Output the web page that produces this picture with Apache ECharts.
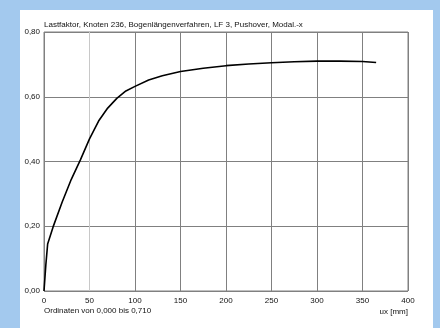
<!DOCTYPE html>
<html><head><meta charset="utf-8">
<script src="https://cdn.jsdelivr.net/npm/echarts@6/dist/echarts.min.js"></script>
<style>html,body{margin:0;padding:0;background:#a3c9ee}#c{width:440px;height:328px}</style>
</head><body><div id="c"></div>
<script>
const uxValues = [0, 2, 4, 10, 20, 30, 40, 50, 60, 70, 80, 90, 100, 115, 130, 150, 175, 200, 225, 250, 275, 300, 325, 350, 365];
const lastfaktor = [0, 0.08, 0.145, 0.198, 0.275, 0.345, 0.405, 0.47, 0.525, 0.565, 0.595, 0.618, 0.632, 0.652, 0.665, 0.678, 0.688, 0.696, 0.701, 0.705, 0.708, 0.71, 0.71, 0.709, 0.706];
const titleText = 'Lastfaktor, Knoten 236, Bogenlängenverfahren, LF 3, Pushover, Modal.-x';
const footText = 'Ordinaten von 0,000 bis 0,710';
const xAxisTitle = 'ux [mm]';

const chart = echarts.init(document.getElementById('c'));
const font = 'Liberation Sans, Arial, sans-serif';
const gridColors = ['#808080','#c8c8c8','#808080','#808080','#808080','#808080','#808080','#808080','#808080'];
chart.setOption({
  backgroundColor: '#a3c9ee',
  animation: false,
  graphic: [
    {type:'rect', shape:{x:20,y:10,width:413,height:318}, style:{fill:'#ffffff'}, z:-10, silent:true},
    {type:'text', left:44, top:21, style:{text:titleText, font:'8px '+font, fill:'#111'}},
    {type:'text', left:44, top:307, style:{text:footText, font:'8px '+font, fill:'#111'}},
    {type:'text', right:32, top:308, style:{text:xAxisTitle, font:'8px '+font, fill:'#111'}}
  ],
  grid: {left:44, top:32, right:32, bottom:37, show:true, borderColor:'#808080', borderWidth:1},
  xAxis: {
    type:'value', min:0, max:400, interval:50,
    axisLine:{show:false}, axisTick:{show:false},
    axisLabel:{color:'#111', fontSize:8, fontFamily:font, margin:6},
    splitLine:{show:true, lineStyle:{color:gridColors, width:1}}
  },
  yAxis: {
    type:'value', min:0, max:0.8, interval:0.2,
    axisLine:{show:false}, axisTick:{show:false},
    axisLabel:{color:'#111', fontSize:8, fontFamily:font, margin:4,
      formatter:v=>v.toFixed(2).replace('.',','), verticalAlign:'middle', padding:[0,0,4,0]},
    splitLine:{show:true, lineStyle:{color:'#808080', width:1}}
  },
  series: [{
    type:'line', data: uxValues.map((x,i)=>[x, lastfaktor[i]]),
    showSymbol:false, smooth:false,
    lineStyle:{color:'#000', width:1.6}
  }]
});
</script></body></html>
